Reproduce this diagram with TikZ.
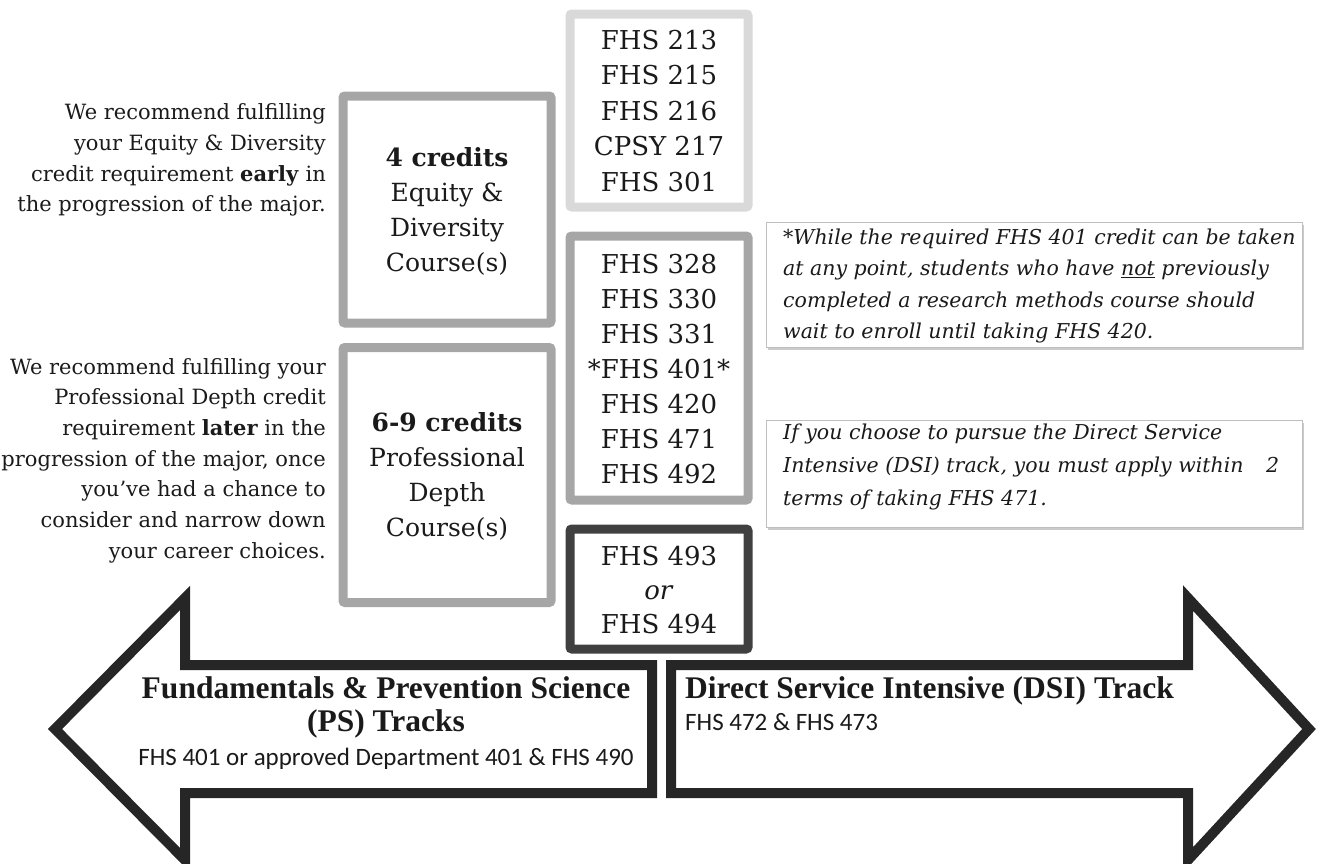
\documentclass[tikz,border=0pt]{standalone}
\usepackage{fontspec}
\setmainfont{DejaVu Serif}
\newfontfamily\titlefont{Liberation Serif}
\newfontfamily\calfont{Carlito}
\usetikzlibrary{shadows}
\definecolor{lgray}{HTML}{D9D9D9}
\definecolor{mgray}{HTML}{A6A6A6}
\definecolor{dgray}{HTML}{404040}
\definecolor{arrowc}{HTML}{262626}
\definecolor{txt}{HTML}{1A1A1A}
\definecolor{cborder}{HTML}{BFBFBF}
\begin{document}
\begin{tikzpicture}[x=1pt,y=-1pt,
  frame/.style={draw=#1, line width=9pt, rounded corners=2pt, inner sep=0pt},
  course/.style={align=center, inner sep=0pt, text=txt, font=\fontsize{26}{35.5}\selectfont},
  note/.style={align=right, inner sep=0pt, anchor=east, text=txt, font=\fontsize{21}{30.7}\selectfont},
  cbox/.style={draw=cborder, line width=1pt, fill=white, inner sep=0pt,
    drop shadow={shadow xshift=2pt, shadow yshift=-3pt, opacity=0.35, fill=black!60}},
  ctext/.style={align=left, inner sep=0pt, anchor=west, text=txt, font=\fontsize{20.5}{31.5}\selectfont\itshape},
  bigarrow/.style={draw=arrowc, line width=10pt, fill=white, miter limit=10},
  tracktitle/.style={inner sep=0pt, align=center, text=txt, font=\fontsize{31.5}{33}\selectfont\titlefont\bfseries},
  tracksub/.style={inner sep=0pt, text=txt, font=\fontsize{25}{28}\selectfont\calfont}
]
\useasboundingbox (0,0) rectangle (1320,863);

% course boxes
\node[frame=lgray, minimum width=178pt, minimum height=193pt] (b1) at (659,110.5) {};
\node[course] (t1) at (659,111) {FHS 213\\FHS 215\\FHS 216\\CPSY 217\\FHS 301};

\node[frame=mgray, minimum width=208pt, minimum height=227pt] (eq) at (447,209.5) {};
\node[course, font=\fontsize{25}{35}\selectfont] (eqt) at (447,211) {\textbf{4 credits}\\Equity \&\\Diversity\\Course(s)};

\node[frame=mgray, minimum width=208pt, minimum height=255pt] (pd) at (447,475) {};
\node[course, font=\fontsize{25}{35}\selectfont] (pdt) at (447,476) {\textbf{6-9 credits}\\Professional\\Depth\\Course(s)};

\node[frame=mgray, minimum width=178pt, minimum height=264pt] (b2) at (659,368) {};
\node[course, font=\fontsize{26}{35}\selectfont] (t2) at (659,369) {FHS 328\\FHS 330\\FHS 331\\*FHS 401*\\FHS 420\\FHS 471\\FHS 492};

\node[frame=dgray, minimum width=178pt, minimum height=120pt] (b3) at (659,589) {};
\node[course, font=\fontsize{26}{34}\selectfont] (t3) at (659,590) {FHS 493\\\textit{or}\\FHS 494};

% left notes
\node[note] (n1) at (326,160) {We recommend fulfilling\\your Equity \& Diversity\\credit requirement \textbf{early} in\\the progression of the major.};
\node[note] (n2) at (326,460.5) {We recommend fulfilling your\\Professional Depth credit\\requirement \textbf{later} in the\\progression of the major, once\\you’ve had a chance to\\consider and narrow down\\your career choices.};

% comment boxes
\node[cbox, minimum width=536pt, minimum height=125pt] (c1) at (1034,284.5) {};
\node[ctext] (c1t) at (783,286) {*While the required FHS 401 credit can be taken\\at any point, students who have \underline{not} previously\\completed a research methods course should\\wait to enroll until taking FHS 420.};

\node[cbox, minimum width=536pt, minimum height=107pt] (c2) at (1034,473.5) {};
\node[ctext, font=\fontsize{20.5}{33}\selectfont\itshape] (c2t) at (783,467) {If you choose to pursue the Direct Service\\Intensive (DSI) track, you must apply within\hspace{1.1em}2\\terms of taking FHS 471.};

% track arrows
\draw[bigarrow] (652,665) -- (185,665) -- (185,598) -- (55,729) -- (185,860) -- (185,793) -- (652,793) -- cycle;
\draw[bigarrow] (671,665) -- (1188,665) -- (1188,598) -- (1309,729) -- (1188,860) -- (1188,793) -- (671,793) -- cycle;

\node[tracktitle] (ps) at (386,707) {Fundamentals \& Prevention Science\\(PS) Tracks};
\node[tracksub] (psc) at (386,759) {FHS 401 or approved Department 401 \& FHS 490};
\node[tracktitle, anchor=west] (dsi) at (685,691) {Direct Service Intensive (DSI) Track};
\node[tracksub, anchor=west] (dsic) at (685,722) {FHS 472 \& FHS 473};
\end{tikzpicture}
\end{document}
